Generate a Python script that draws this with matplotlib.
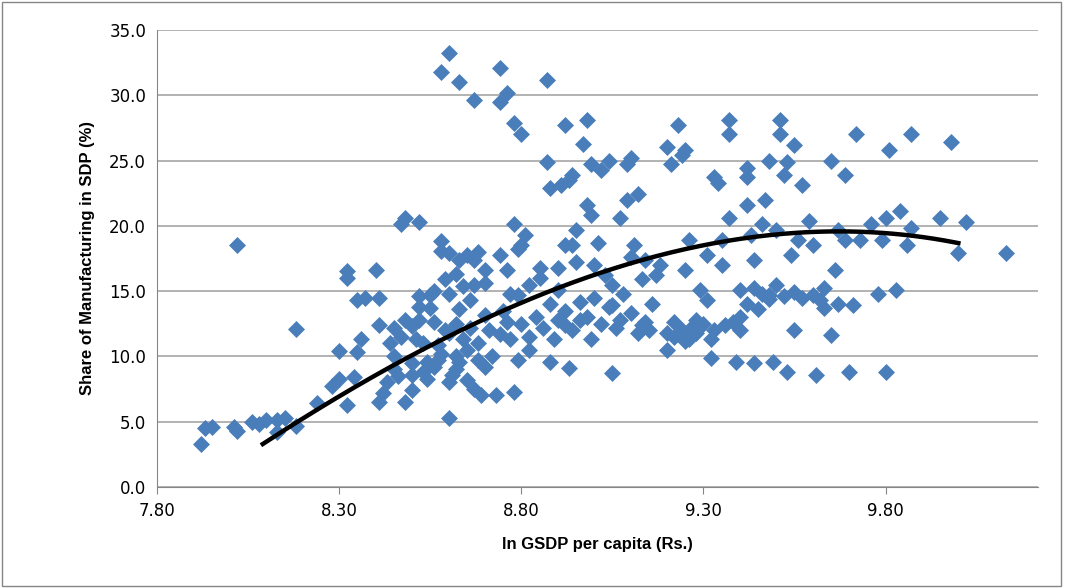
import matplotlib
matplotlib.use("Agg")
import matplotlib.pyplot as plt
import numpy as np

ln_gsdp = [
    7.92, 7.93, 7.95, 8.01, 8.02, 8.02, 8.06, 8.08, 8.10, 8.13, 8.15, 8.13, 8.18, 8.18, 8.24, 8.28,
    8.30, 8.30, 8.32, 8.32, 8.32, 8.34, 8.35, 8.36, 8.35, 8.37, 8.40, 8.41, 8.41, 8.41, 8.42, 8.43,
    8.45, 8.45, 8.45, 8.47, 8.47, 8.48, 8.52, 8.48, 8.50, 8.50, 8.51, 8.52, 8.52, 8.54, 8.54, 8.55,
    8.55, 8.57, 8.57, 8.58, 8.58, 8.58, 8.60, 8.60, 8.59, 8.59, 8.61, 8.62, 8.63, 8.63, 8.63, 8.64,
    8.65, 8.66, 8.67, 8.67, 8.67, 8.68, 8.69, 8.70, 8.71, 8.73, 8.74, 8.74, 8.76, 8.76, 8.76, 8.77,
    8.78, 8.78, 8.78, 8.79, 8.79, 8.80, 8.80, 8.81, 8.82, 8.82, 8.85, 8.87, 8.87, 8.88, 8.88, 8.89,
    8.90, 8.91, 8.92, 8.92, 8.92, 8.93, 8.93, 8.94, 8.95, 8.96, 8.97, 8.98, 8.98, 8.99, 8.99, 8.99,
    9.01, 9.02, 9.03, 9.04, 9.05, 9.05, 9.07, 9.07, 9.09, 9.09, 9.10, 9.11, 9.12, 9.13, 9.13, 9.14,
    9.15, 9.17, 9.18, 9.20, 9.20, 9.21, 9.23, 9.24, 9.25, 9.25, 9.26, 9.26, 9.28, 9.29, 9.31, 9.31,
    9.32, 9.32, 9.33, 9.34, 9.35, 9.35, 9.36, 9.37, 9.37, 9.37, 9.39, 9.40, 9.40, 9.42, 9.42, 9.42,
    9.43, 9.44, 9.44, 9.45, 9.46, 9.47, 9.48, 9.48, 9.49, 9.50, 9.51, 9.51, 9.52, 9.53, 9.53, 9.54,
    9.55, 9.55, 9.56, 9.57, 9.59, 9.60, 9.61, 9.62, 9.63, 9.65, 9.65, 9.66, 9.67, 9.69, 9.69, 9.70,
    9.71, 9.72, 9.73, 9.76, 9.78, 9.79, 9.80, 9.80, 9.81, 9.83, 9.84, 9.86, 9.87, 9.87, 9.95, 9.98,
    10.00, 10.02, 10.13,
    9.20, 9.22, 9.24, 9.27, 9.30, 9.33, 9.38, 9.40, 9.42, 9.44, 9.46, 9.48, 9.50, 9.52, 9.55, 9.57,
    9.60, 9.63, 9.67, 9.22, 9.25, 9.28,
    8.50, 8.53, 8.56, 8.58, 8.60, 8.62, 8.62, 8.65, 8.66, 8.68, 8.70, 8.72, 8.74, 8.75, 8.77, 8.80,
    8.82, 8.84, 8.86, 8.88, 8.90, 8.92, 8.94, 8.96, 8.98, 9.00, 9.02, 9.04, 9.06, 9.08, 9.10, 9.12,
    9.14, 9.16, 8.46, 8.50, 8.53, 8.56, 8.60, 8.63, 8.67, 8.70, 8.44, 8.48, 8.52, 8.56, 8.60, 8.64,
    8.70, 8.74, 8.79, 8.85, 8.90, 8.95, 9.00, 9.05, 8.94, 9.10, 8.60, 8.65, 8.68, 8.62,
]
mfg_share = [
    3.3, 4.5, 4.6, 4.6, 4.3, 18.5, 5.0, 4.8, 5.1, 5.1, 5.3, 4.2, 4.7, 12.1, 6.4, 7.7,
    8.3, 10.4, 16.5, 16.0, 6.3, 8.4, 10.3, 11.3, 14.3, 14.5, 16.6, 14.5, 12.4, 6.5, 7.2, 8.0,
    9.0, 10.0, 12.2, 11.5, 20.1, 20.6, 20.3, 6.5, 7.4, 8.6, 11.3, 12.8, 14.6, 9.6, 8.3, 13.7,
    14.7, 10.9, 9.7, 18.8, 18.1, 31.8, 33.2, 5.3, 15.9, 12.0, 8.6, 10.0, 31.0, 17.4, 13.6, 11.3,
    8.2, 14.3, 17.4, 15.5, 29.6, 9.7, 7.0, 16.6, 12.0, 7.0, 32.1, 29.5, 30.2, 16.6, 12.6, 11.3,
    7.3, 27.9, 20.1, 14.7, 9.7, 27.0, 18.5, 19.3, 10.5, 15.5, 16.8, 31.2, 24.9, 22.9, 9.6, 11.3,
    15.1, 23.1, 27.7, 18.5, 12.4, 9.1, 23.5, 23.9, 19.7, 12.8, 26.3, 21.6, 28.1, 20.8, 11.3, 24.7,
    18.7, 24.3, 16.2, 25.0, 8.7, 13.9, 20.6, 12.8, 24.7, 22.0, 25.2, 18.5, 22.4, 12.4, 15.9, 17.4,
    12.0, 16.2, 17.0, 10.5, 26.0, 24.7, 27.7, 25.4, 25.8, 16.6, 18.9, 11.3, 12.8, 15.1, 14.3, 17.8,
    11.3, 9.9, 23.7, 23.3, 18.9, 17.0, 12.4, 27.0, 28.1, 20.6, 9.6, 15.1, 12.0, 24.4, 21.6, 23.7,
    19.3, 17.4, 9.5, 13.6, 20.1, 22.0, 14.7, 25.0, 9.6, 19.7, 28.1, 27.0, 23.9, 8.8, 24.9, 17.8,
    26.2, 12.0, 18.9, 23.1, 20.4, 18.5, 8.6, 14.3, 13.7, 11.6, 25.0, 16.6, 19.7, 23.9, 18.9, 8.8,
    13.9, 27.0, 18.9, 20.1, 14.8, 18.9, 8.8, 20.6, 25.8, 15.1, 21.1, 18.5, 27.0, 19.8, 20.6, 26.4,
    17.9, 20.3, 17.9,
    11.8, 11.5, 12.0, 12.3, 12.5, 12.0, 12.6, 13.0, 14.0, 15.2, 14.8, 14.4, 15.5, 14.6, 14.9, 14.5,
    14.7, 15.2, 14.0, 12.6, 11.2, 11.8,
    12.3, 11.0, 12.6, 10.2, 11.8, 12.5, 9.0, 10.5, 12.2, 11.0, 13.2, 10.0, 11.7, 13.5, 14.8, 12.5,
    11.5, 13.0, 12.2, 14.0, 12.8, 13.5, 12.0, 14.2, 13.0, 14.5, 12.5, 13.8, 12.2, 14.8, 13.3, 11.8,
    12.6, 14.0, 8.5, 9.5, 8.8, 9.2, 8.0, 9.6, 7.5, 9.2, 11.0, 12.8, 13.8, 15.0, 14.8, 15.4,
    15.6, 17.8, 18.2, 16.0, 16.8, 17.2, 17.0, 15.5, 18.5, 17.6, 17.9, 17.8, 18.0, 16.3,
]

# trend line (polynomial through these)
trend_x = [8.09, 8.30, 8.55, 8.80, 9.04, 9.29, 9.57, 9.80, 10.00]
trend_y = [3.5, 6.7, 10.5, 14.3, 16.9, 18.6, 19.2, 19.2, 18.9]

yticks = np.arange(0, 35.1, 5)
xticks = [7.8, 8.3, 8.8, 9.3, 9.8]

fig = plt.figure(figsize=(10.84, 5.88), dpi=100)
ax = fig.add_axes([0.145, 0.172, 0.813, 0.777])

ax.scatter(ln_gsdp, mfg_share, marker="D", s=75, color="#4a7ebb", linewidths=0, zorder=3)

coef = np.polyfit(trend_x, trend_y, 3)
xs = np.linspace(min(trend_x), max(trend_x), 200)
ax.plot(xs, np.polyval(coef, xs), color="black", lw=3.2, zorder=4)

ax.set_xlim(7.8, 10.22)
ax.set_ylim(0, 35)
ax.set_yticks(yticks)
ax.set_yticklabels([f"{v:.1f}" for v in yticks])
ax.set_xticks(xticks)
ax.set_xticklabels([f"{v:.2f}" for v in xticks])
ax.yaxis.grid(True, color="#a6a6a6", lw=1.2)
ax.set_axisbelow(True)
for side in ["top", "right"]:
    ax.spines[side].set_visible(False)
for side in ["left", "bottom"]:
    ax.spines[side].set_color("#868686")
ax.tick_params(axis="y", length=0, labelsize=12, pad=8)
ax.tick_params(axis="x", length=5, color="#868686", labelsize=12, pad=6)

label_font = {"family": ["Liberation Sans Narrow", "Liberation Sans"], "weight": "bold", "size": 12}
ax.set_xlabel("ln GSDP per capita (Rs.)", fontdict=label_font, labelpad=12)
ax.set_ylabel("Share of Manufacturing in SDP (%)", fontdict=label_font, labelpad=10)

fig.patches.append(plt.Rectangle((0.002, 0.003), 0.977, 0.994, transform=fig.transFigure,
                                 fill=False, edgecolor="#868686", lw=1))

fig.savefig("out.png", dpi=100)
